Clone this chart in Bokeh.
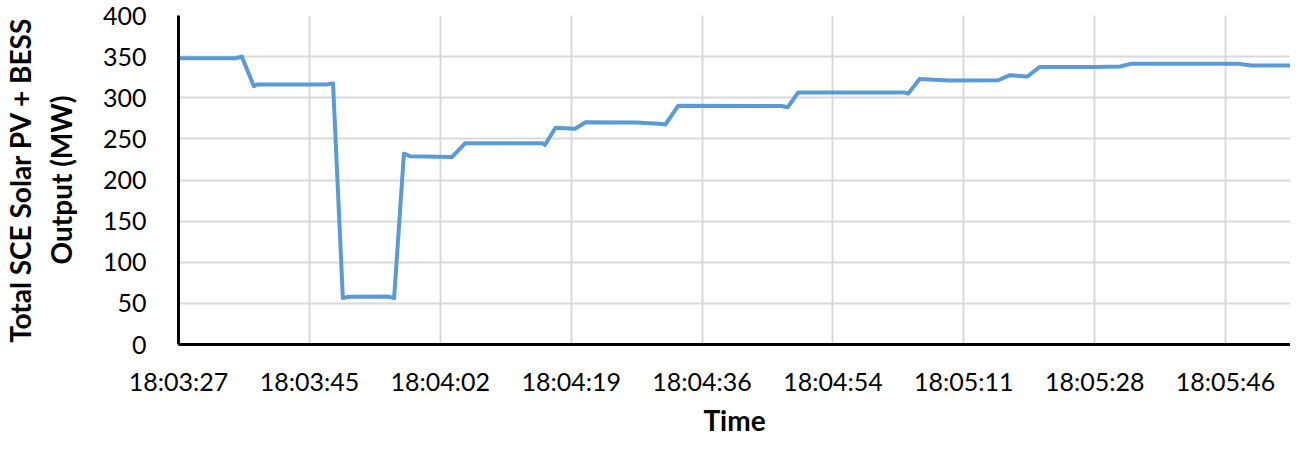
from bokeh.plotting import figure
from bokeh.models import FixedTicker, Range1d
from bokeh.embed import file_html
from bokeh.resources import INLINE

# seconds after 18:03:27
time_s = [0, 7.6, 8.4, 10.0, 10.4, 19.6, 20.5, 21.8, 22.6, 27.8, 28.6, 29.9, 30.7,
          36.3, 38.0, 48.3, 48.6, 50.0, 52.6, 54.0, 60.7, 63.7, 64.6, 66.3, 80.0,
          80.8, 82.2, 96.3, 96.8, 98.3, 102.1, 108.7, 110.3, 112.6, 114.2, 121.6,
          124.9, 126.3, 140.7, 142.3, 147.5]
output_mw = [348, 348, 350, 314, 316, 316, 317.5, 56.4, 58, 58.3, 56.4, 232, 229,
             228, 244.6, 244.6, 242.6, 263.5, 262.3, 270.2, 270, 268.5, 267.5, 290.3, 290,
             288.4, 306.5, 306.5, 305, 322.7, 320.9, 321.3, 327.4, 325.8, 337.3, 337.5,
             338, 341.2, 341.2, 339.3, 339.3]
tick_labels = ["18:03:27", "18:03:45", "18:04:02", "18:04:19", "18:04:36",
               "18:04:54", "18:05:11", "18:05:28", "18:05:46"]
tick_step = 17.36
tick_pos = [i * tick_step for i in range(len(tick_labels))]

FONT = "Lato"
p = figure(width=1290, height=439, output_backend="svg", toolbar_location=None,
           x_range=Range1d(0, 147.5), y_range=Range1d(0, 400),
           min_border_left=167, min_border_right=0, min_border_top=15, min_border_bottom=80)
p.outline_line_color = None

p.line(time_s, output_mw, line_color="#5B9BD5", line_width=4, line_join="round")

p.xaxis.ticker = FixedTicker(ticks=tick_pos)
p.xaxis.major_label_overrides = {t: l for t, l in zip(tick_pos, tick_labels)}
p.yaxis.ticker = FixedTicker(ticks=list(range(0, 401, 50)))

for ax in (p.xaxis[0], p.yaxis[0]):
    ax.axis_line_color = "black"
    ax.axis_line_width = 3
    ax.major_tick_line_color = None
    ax.minor_tick_line_color = None
    ax.major_label_text_font = FONT
    ax.major_label_text_font_size = "25px"
    ax.major_label_text_color = "black"
    ax.axis_label_text_font = FONT
    ax.axis_label_text_font_style = "bold"
    ax.axis_label_text_font_size = "28px"
    ax.axis_label_text_color = "black"

p.xaxis.major_label_standoff = 15
p.yaxis.major_label_standoff = 26
p.xaxis.axis_label = "Time"
p.xaxis.axis_label_standoff = 4
p.yaxis.axis_label = "Total SCE Solar PV + BESS\nOutput (MW)"
p.yaxis.axis_label_text_line_height = 1.2
p.yaxis.axis_label_standoff = 22

p.xgrid.grid_line_color = "#D9D9D9"
p.ygrid.grid_line_color = "#D9D9D9"
p.xgrid.grid_line_width = 2
p.ygrid.grid_line_width = 2
p.xgrid.ticker = FixedTicker(ticks=tick_pos)

open("out.html", "w").write(file_html(p, INLINE))
